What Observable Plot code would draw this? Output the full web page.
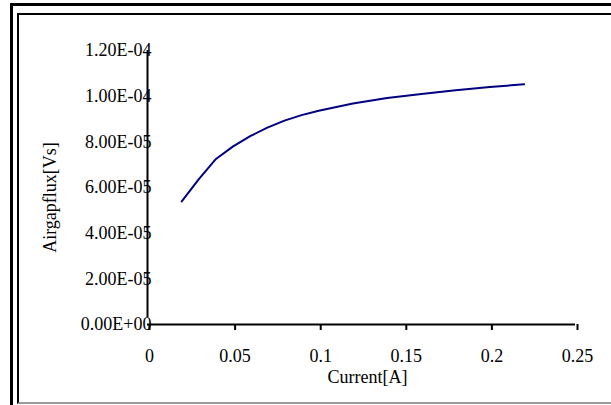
<!DOCTYPE html>
<html>
<head>
<meta charset="utf-8">
<script src="https://cdn.jsdelivr.net/npm/d3@7"></script>
<script src="https://cdn.jsdelivr.net/npm/@observablehq/plot@0.6"></script>
<style>
  html, body { margin: 0; padding: 0; background: #fff; }
  #wrap { position: relative; width: 611px; height: 405px; overflow: hidden; background: #fff; }
  #outer { position: absolute; left: 10px; top: 3px; width: 700px; height: 500px; border: 3px solid #000; box-sizing: border-box; }
  #inner { position: absolute; left: 17px; top: 13px; width: 700px; height: 391px; box-sizing: border-box;
           border-top: 2px solid #000; border-left: 2px solid #000; border-bottom: 2px solid #9a9a9a; }
  #chart { position: absolute; left: 0; top: 0; }
</style>
</head>
<body>
<div id="wrap">
  <div id="outer"></div>
  <div id="inner"></div>
  <div id="chart"></div>
</div>
<script>
// Data
const current = [0.02, 0.03, 0.04, 0.05, 0.06, 0.07, 0.08, 0.09, 0.10, 0.12, 0.14, 0.16, 0.18, 0.20, 0.22];
const airgapFlux = [5.39e-5, 6.37e-5, 7.25e-5, 7.8e-5, 8.25e-5, 8.62e-5, 8.93e-5, 9.17e-5, 9.36e-5, 9.68e-5, 9.92e-5, 10.1e-5, 10.26e-5, 10.4e-5, 10.52e-5];

const xTicks = [0, 0.05, 0.1, 0.15, 0.2, 0.25];
const xTickLabels = ["0", "0.05", "0.1", "0.15", "0.2", "0.25"];
const yTicks = [0, 2e-5, 4e-5, 6e-5, 8e-5, 1e-4, 1.2e-4];
const yTickLabels = ["0.00E+00", "2.00E-05", "4.00E-05", "6.00E-05", "8.00E-05", "1.00E-04", "1.20E-04"];
const xTitle = "Current[A]";
const yTitle = "Airgapflux[Vs]";

const data = current.map((c, i) => ({current: c, flux: airgapFlux[i]}));

const chart = Plot.plot({
  width: 611,
  height: 405,
  marginLeft: 147,
  marginRight: 36,
  marginTop: 50,
  marginBottom: 81,
  style: {fontFamily: "'Liberation Serif', 'Times New Roman', serif", fontSize: "18px", color: "#000", background: "transparent", overflow: "visible"},
  x: {domain: [0, 0.25]},
  y: {domain: [0, 1.2e-4]},
  marks: [
    Plot.ruleY([0], {stroke: "#000", strokeWidth: 2}),
    Plot.ruleX([0], {y1: 0, y2: 1.2e-4, stroke: "#000", strokeWidth: 2, insetTop: -7}),
    Plot.line(data, {x: "current", y: "flux", stroke: "#000080", strokeWidth: 2}),
    Plot.axisX({ticks: xTicks, tickFormat: d => xTickLabels[xTicks.indexOf(d)], tickSize: 6, tickPadding: 19, strokeWidth: 2, label: null, dx: 2, fill: "#000"}),
    Plot.axisY({ticks: yTicks, tickFormat: d => yTickLabels[yTicks.indexOf(d)], tickSize: 0, tickPadding: -4, label: null, fill: "#000"}),
    Plot.text([xTitle], {text: d => d, frameAnchor: "bottom", dy: 58, dx: 6, fill: "#000"}),
    Plot.text([yTitle], {text: d => d, frameAnchor: "left", textAnchor: "middle", rotate: -90, dx: -97, dy: 10, fill: "#000"})
  ]
});
document.getElementById("chart").appendChild(chart);
</script>
</body>
</html>
